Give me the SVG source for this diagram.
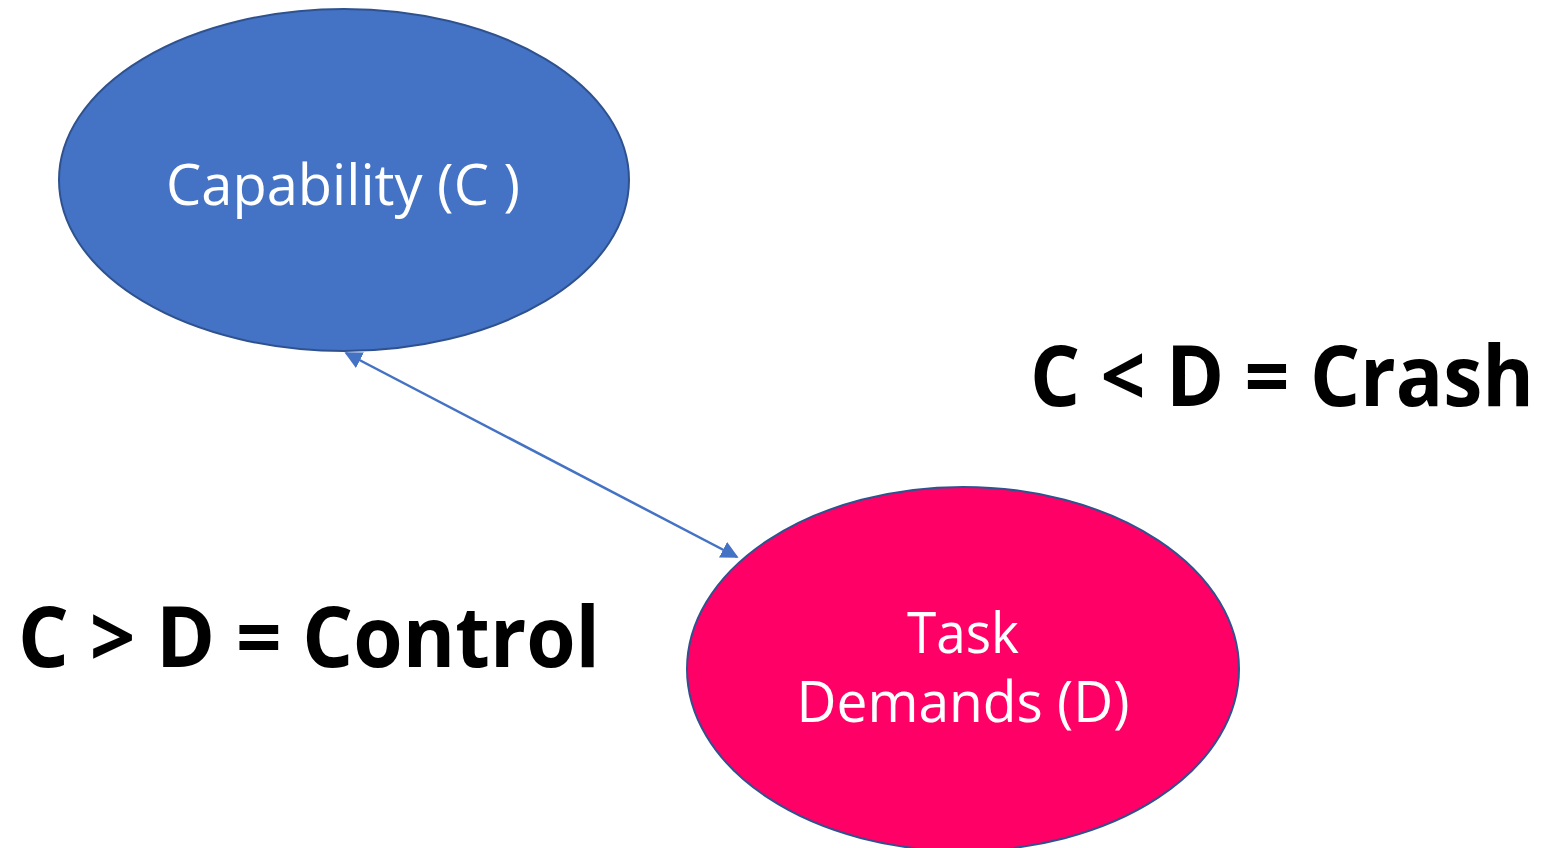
<svg xmlns="http://www.w3.org/2000/svg" width="1548" height="848" viewBox="0 0 1548 848">
  <style>
    .node-label { font-family: "Open Sans", "Noto Sans", "Liberation Sans", sans-serif; font-size: 57px; fill: #ffffff; text-anchor: middle; }
    .rule { font-family: "Open Sans", "Noto Sans", "Liberation Sans", sans-serif; font-size: 84px; font-weight: bold; fill: #000000; }
    .link { stroke: #4472C4; stroke-width: 2.5; fill: none; }
  </style>
  <defs>
    <marker id="arrow" viewBox="0 0 10 10" refX="9" refY="5" markerWidth="7" markerHeight="7" orient="auto-start-reverse" markerUnits="strokeWidth">
      <path d="M0,0 L10,5 L0,10 Z" fill="#4472C4"/>
    </marker>
  </defs>
  <rect width="1548" height="848" fill="#ffffff"/>

  <g id="capability">
    <ellipse cx="344" cy="180" rx="285" ry="171" fill="#4472C4" stroke="#2F528F" stroke-width="2"/>
    <text class="node-label" x="343" y="205" textLength="354" lengthAdjust="spacingAndGlyphs">Capability (C )</text>
  </g>

  <g id="task-demands">
    <ellipse cx="963" cy="669" rx="276" ry="182" fill="#FF0066" stroke="#2F528F" stroke-width="2"/>
    <text class="node-label" x="963" y="653" textLength="112" lengthAdjust="spacingAndGlyphs">Task</text>
    <text class="node-label" x="963" y="722" textLength="333" lengthAdjust="spacingAndGlyphs">Demands (D)</text>
  </g>

  <g id="connectors">
    <line class="link" x1="346" y1="353" x2="737" y2="557" marker-start="url(#arrow)" marker-end="url(#arrow)"/>
  </g>

  <g id="rule-crash">
    <text class="rule" x="1030" y="406" textLength="504" lengthAdjust="spacingAndGlyphs">C &lt; D = Crash</text>
  </g>

  <g id="rule-control">
    <text class="rule" x="18" y="667" textLength="582" lengthAdjust="spacingAndGlyphs">C &gt; D = Control</text>
  </g>
</svg>
